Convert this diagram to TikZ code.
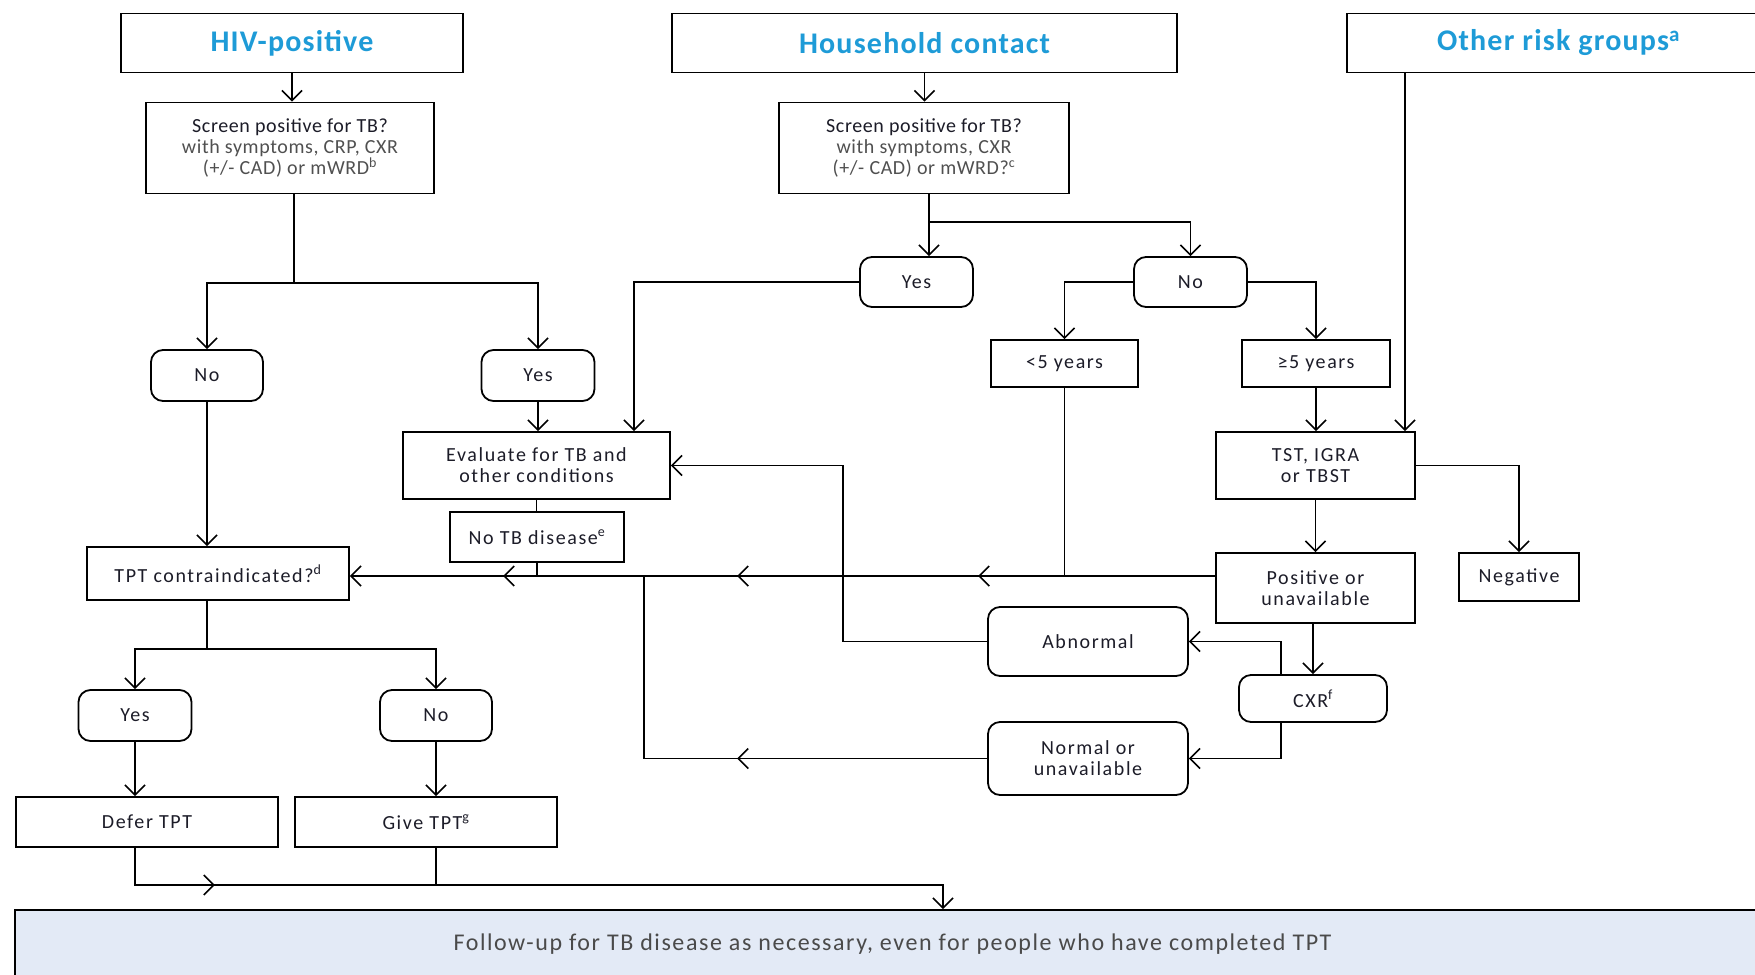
\documentclass[tikz,border=0pt]{standalone}
\usepackage{fontspec}
\setmainfont{Carlito}
\newfontfamily\hfont{Carlito}[LetterSpace=4]
\newfontfamily\bfont{Carlito}[LetterSpace=8]
\newfontfamily\sfont{Carlito}[LetterSpace=3]
\newfontfamily\ffont{Carlito}[LetterSpace=6.5]
\usetikzlibrary{arrows.meta,decorations.markings}
\definecolor{hblue}{HTML}{1E9BD7}
\definecolor{txt}{HTML}{1C1C28}
\definecolor{subtxt}{HTML}{505050}
\definecolor{fillb}{HTML}{E3EAF6}
\definecolor{ftxt}{HTML}{4A4A4A}
\tikzset{
  box/.style={draw=black, line width=1.8pt, inner sep=0pt, align=center,
    font=\bfont\fontsize{20}{21}\selectfont, text=txt},
  scrbox/.style={box, font=\sfont\fontsize{20}{21}\selectfont},
  rbox/.style={box, rounded corners=12pt},
  hdr/.style={box, font=\hfont\bfseries\fontsize{30}{32}\selectfont, text=hblue},
  sz/.style 2 args={minimum width=#1pt, minimum height=#2pt},
  conn/.style={line width=1.6pt, draw=black},
  arr/.style={conn, -{Straight Barb[length=10pt,width=20pt]}},
  tipmark/.style={postaction={decorate}, decoration={markings,
    mark=at position #1 with {\arrow[line width=1.6pt]{Straight Barb[length=10pt,width=20pt]}}}},
}
\begin{document}
\begin{tikzpicture}[x=1pt,y=-1pt]
\useasboundingbox (0,0) rectangle (1755,974);
% header row
\node[hdr, sz={342}{59}] (hiv) at (292,43) {HIV-positive};
\node[hdr, sz={505}{59}] (hh) at (924.5,43) {Household contact};
\node[hdr, sz={423}{59}] (other) at (1558.5,43) {Other risk groups\textsuperscript{a}};
% screens
\node[scrbox, sz={288}{91}] (scr1) at (290,148) {Screen positive for TB?\\{\color{subtxt}with symptoms, CRP, CXR}\\{\color{subtxt}(+/- CAD) or mWRD\textsuperscript{b}}};
\node[scrbox, sz={290}{91}] (scr2) at (924,148) {Screen positive for TB?\\{\color{subtxt}with symptoms, CXR}\\{\color{subtxt}(+/- CAD) or mWRD?\textsuperscript{c}}};
% household branch
\node[rbox, sz={113}{50}] (yes2) at (916.5,282) {Yes};
\node[rbox, sz={113}{50}] (no2) at (1190.5,282) {No};
\node[box, sz={147}{47}] (lt5) at (1064.5,363.5) {<5 years};
\node[box, sz={148}{47}] (ge5) at (1316,363.5) {≥5 years};
% HIV branch
\node[rbox, sz={112}{51}] (no1) at (207,375.5) {No};
\node[rbox, sz={113}{51}] (yes1) at (538,375.5) {Yes};
\node[box, sz={267}{67}] (eval) at (536.5,465.5) {Evaluate for TB and\\other conditions};
\node[box, sz={174}{50}] (notb) at (537,537) {No TB disease\textsuperscript{e}};
% right side
\node[box, sz={199}{67}] (tst) at (1315.5,465.5) {TST, IGRA\\or TBST};
\node[box, sz={120}{48}] (neg) at (1519,577) {Negative};
\node[box, sz={199}{70}] (pos) at (1315.5,588) {Positive or\\unavailable};
\node[rbox, sz={148}{47}] (cxr) at (1313,698.5) {CXR\textsuperscript{f}};
\node[rbox, sz={200}{69}] (abn) at (1088,641.5) {Abnormal};
\node[rbox, sz={200}{73}] (norm) at (1088,758.5) {Normal or\\unavailable};
% TPT
\node[box, sz={262}{53}] (tpt) at (218,573.5) {TPT contraindicated?\textsuperscript{d}};
\node[rbox, sz={113}{51}] (yes3) at (135,715.5) {Yes};
\node[rbox, sz={112}{51}] (no3) at (436,715.5) {No};
\node[box, sz={262}{50}] (defer) at (147,822) {Defer TPT};
\node[box, sz={262}{50}] (give) at (426,822) {Give TPT\textsuperscript{g}};
% follow-up
\node[box, fill=fillb, sz={1755}{68}, font=\ffont\fontsize{24}{26}\selectfont, text=ftxt] (follow) at (892.5,944)
  {Follow-up for TB disease as necessary, even for people who have completed TPT};
% coordinates
\coordinate (b1) at (294,283);
\coordinate (b2) at (929,222);
\coordinate (b3) at (207,649);
\coordinate (b4) at (943,885);
\coordinate (mY) at (0,576);
\coordinate (o1) at (1405,0);
\coordinate (c1) at (1281,0);
\coordinate (c2) at (843,0);
\coordinate (c3) at (644,0);
\coordinate (y1) at (634,0);
% connectors
\draw[arr] (hiv.south) -- (hiv.south |- scr1.north);
\draw[arr] (hh.south) -- (hh.south |- scr2.north);
\draw[conn] (scr1.south -| b1) -- (b1);
\draw[arr] (b1) -| (no1);
\draw[arr] (b1) -| (yes1);
\draw[arr] (yes1.south) -- (yes1.south |- eval.north);
\draw[arr] (no1.south) -- (no1.south |- tpt.north);
\draw[conn] (eval.south) -- (eval.south |- notb.north);
\draw[conn] (scr2.south -| b2) -- (b2);
\draw[arr] (b2) -- (b2 |- yes2.north);
\draw[arr] (b2) -| (no2);
\draw[arr] (yes2.west) -| (y1 |- eval.north);
\draw[arr] (no2.west) -| (lt5);
\draw[arr] (no2.east) -| (ge5);
\draw[arr] (ge5.south) -- (ge5.south |- tst.north);
\draw[arr] (other.south -| o1) -- (tst.north -| o1);
\draw[arr] (tst.east) -| (neg);
\draw[arr] (tst.south) -- (pos.north);
\draw[arr, postaction={decorate}, decoration={markings,
    mark=at position 237pt with {\arrow[line width=1.6pt]{Straight Barb[length=10pt,width=20pt]}},
    mark=at position 478pt with {\arrow[line width=1.6pt]{Straight Barb[length=10pt,width=20pt]}},
    mark=at position 712pt with {\arrow[line width=1.6pt]{Straight Barb[length=10pt,width=20pt]}}}]
  (pos.west |- mY) -- (tpt.east |- mY);
\draw[conn] (lt5.south) -- (lt5.south |- mY);
\draw[conn] (notb.south) -- (notb.south |- mY);
\draw[arr] (pos.south -| cxr.north) -- (cxr.north);
\draw[arr] (cxr.north -| c1) |- (abn.east);
\draw[arr] (cxr.south -| c1) |- (norm.east);
\draw[arr] (abn.west) -- (abn.west -| c2) |- (eval.east);
\draw[conn, tipmark=250pt] (norm.west) -| (c3 |- mY);
\draw[conn] (tpt.south -| b3) -- (b3);
\draw[arr] (b3) -| (yes3);
\draw[arr] (b3) -| (no3);
\draw[arr] (yes3.south) -- (yes3.south |- defer.north);
\draw[arr] (no3.south) -- (no3.south |- give.north);
\draw[arr, tipmark=117pt] (yes3.south |- defer.south) |- (b4) -- (b4 |- follow.north);
\draw[conn] (no3.south |- give.south) -- (no3.south |- b4);
\end{tikzpicture}
\end{document}
